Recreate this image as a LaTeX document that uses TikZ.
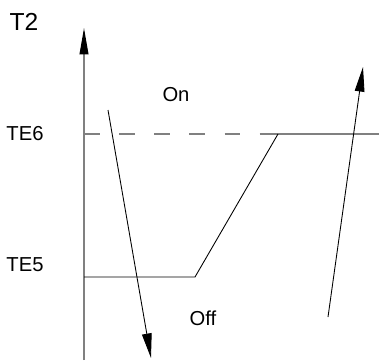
\documentclass[tikz,border=0pt]{standalone}
\usepackage{fontspec}
\setmainfont{Liberation Sans}
\usetikzlibrary{arrows.meta}
\begin{document}
\begin{tikzpicture}[x=0.02cm,y=-0.02cm,
  lbl/.style={font=\fontsize{11.5}{13}\selectfont,inner sep=0pt},
  axisline/.style={gray,line width=0.75pt},
  curve/.style={black,line width=0.5pt},
  move/.style={black,line width=0.5pt,-{Triangle[length=14pt,width=5.5pt]}}]
\useasboundingbox (0,0) rectangle (379,360);
%\draw[step=20,gray,very thin] (0,0) grid (379,360);
% axis
\coordinate (origin) at (84,360);
\coordinate (top) at (84,28);
\draw[axisline,-{Triangle[length=15pt,width=5pt,color=black]}] (origin) -- (top);
\node[lbl,font=\fontsize{14}{16}\selectfont] (t2) at (24,22) {T2};
% thresholds
\node[lbl] (te6) at (25,134) {TE6};
\node[lbl] (te5) at (25,265) {TE5};
\coordinate (hi) at (84,134);
\coordinate (hiend) at (262,134);
\coordinate (hiright) at (379,134);
\coordinate (lo) at (84,277);
\coordinate (lobend) at (195,277);
\coordinate (hibend) at (278,134);
\draw[axisline,dash pattern=on 9pt off 11pt] (hi) -- (hiend);
\draw[axisline] (hiend) -- (hiright);
\draw[curve] (lo) -- (lobend) -- (hibend);
% states
\node[lbl] (on) at (176,95) {On};
\node[lbl] (off) at (203,318) {Off};
% switching
\coordinate (dstart) at (108,110);
\coordinate (dend) at (151,358);
\coordinate (ustart) at (328,317);
\coordinate (uend) at (363,67);
\draw[move] (dstart) -- (dend);
\draw[move] (ustart) -- (uend);
\end{tikzpicture}
\end{document}
